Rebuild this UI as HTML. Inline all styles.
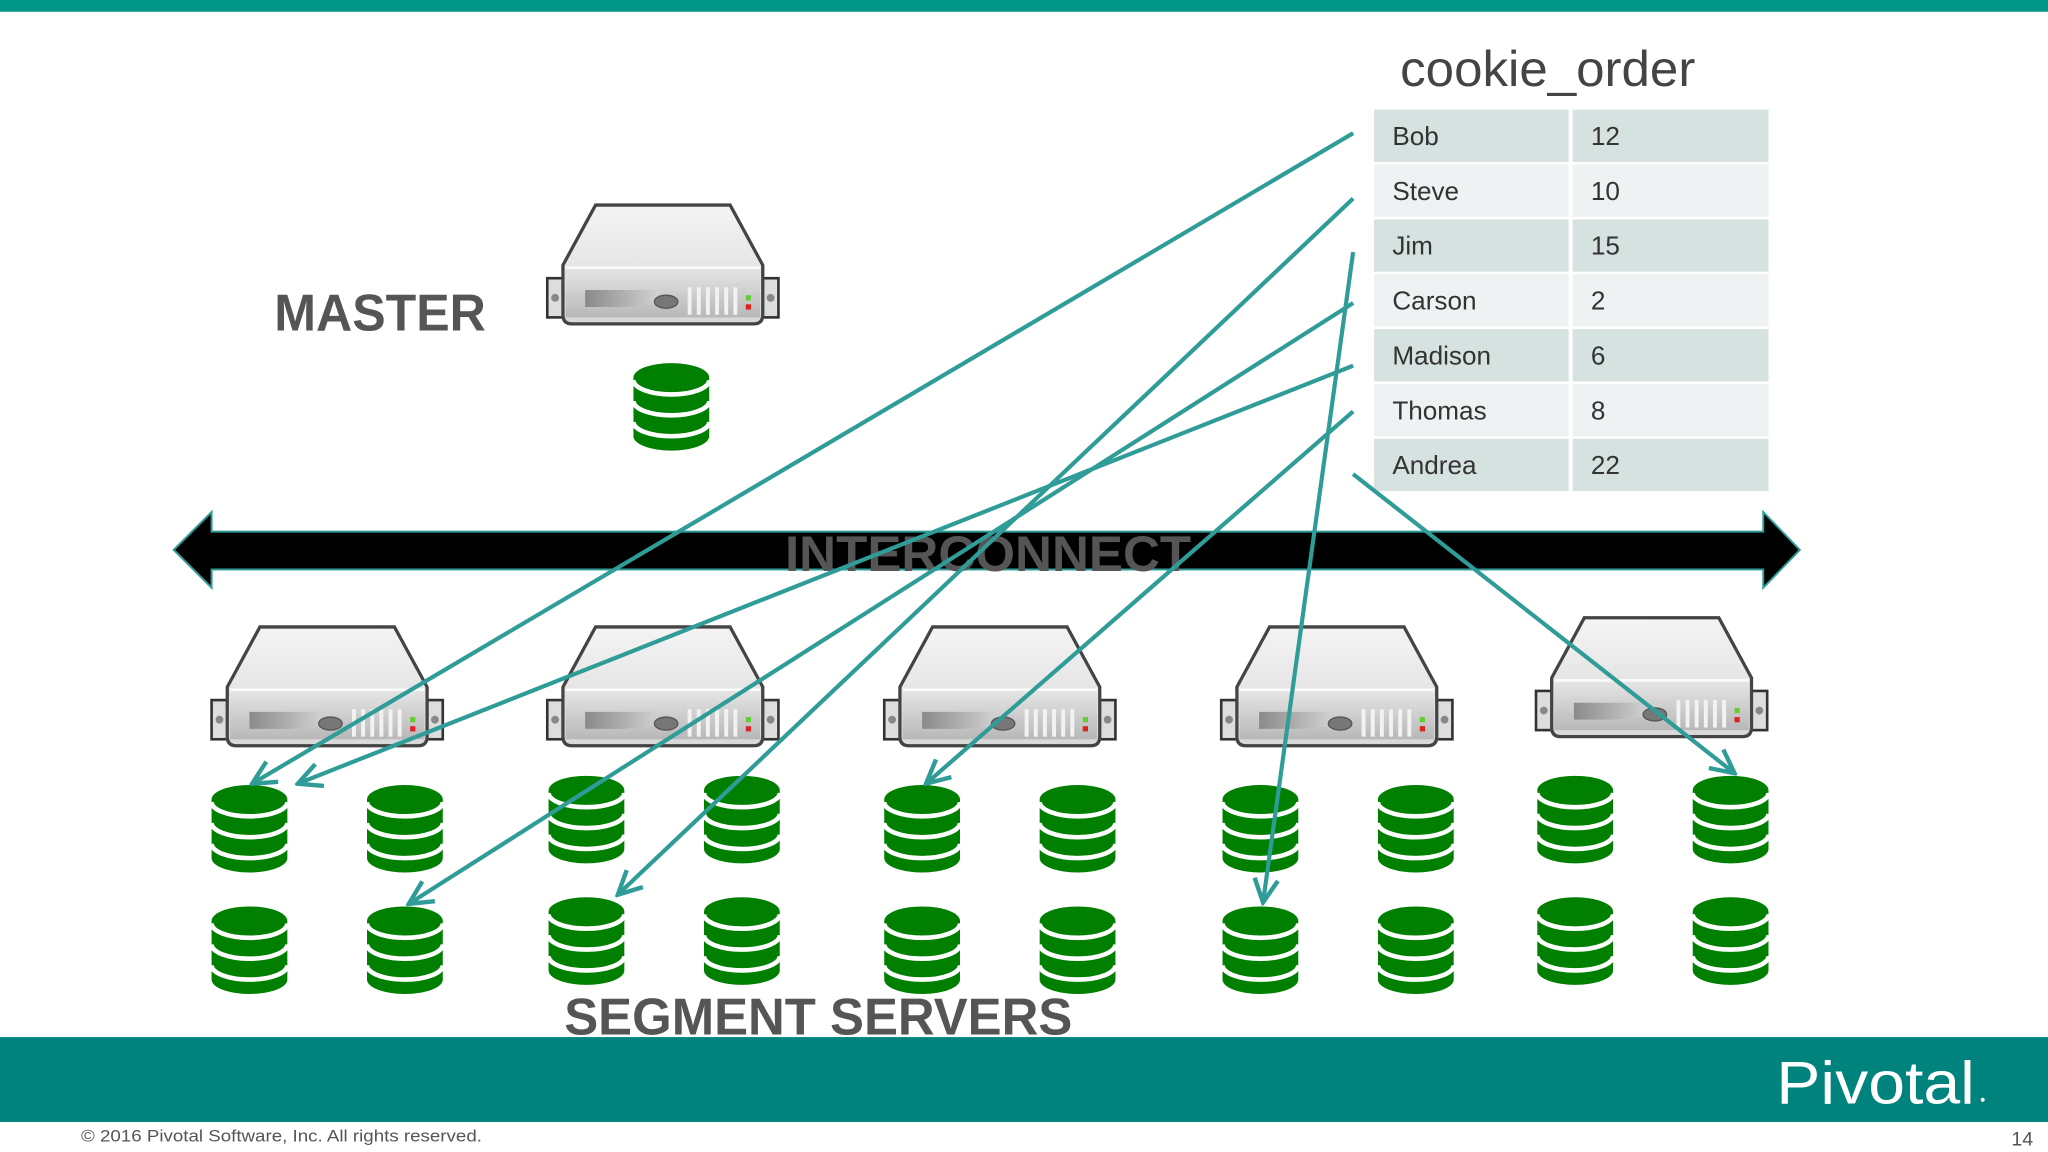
<!DOCTYPE html>
<html><head><meta charset="utf-8"><style>
html,body{margin:0;padding:0;background:#fff;}
svg{display:block;}
text{font-family:"Liberation Sans",Arial,sans-serif;}
</style></head><body>
<svg width="2048" height="1152" viewBox="0 0 1568 882" xmlns="http://www.w3.org/2000/svg">
<defs>
<linearGradient id="topg" x1="0" y1="0" x2="0" y2="1">
<stop offset="0" stop-color="#f4f4f4"/><stop offset="1" stop-color="#d8d8d8"/></linearGradient>
<linearGradient id="frontg" x1="0" y1="0" x2="0" y2="1">
<stop offset="0" stop-color="#e6e6e6"/><stop offset="1" stop-color="#b8b8b8"/></linearGradient>
<linearGradient id="slotg" x1="0" y1="0" x2="1" y2="0">
<stop offset="0" stop-color="#8a8a8a"/><stop offset="1" stop-color="#d0d0d0"/></linearGradient>
<g id="srv">
<rect x="1" y="58" width="14" height="30" fill="#ddd" stroke="#333" stroke-width="2"/>
<rect x="164" y="58" width="14" height="30" fill="#ddd" stroke="#333" stroke-width="2"/>
<circle cx="7" cy="73" r="3" fill="#888"/><circle cx="172" cy="73" r="3" fill="#888"/>
<path d="M38,2 L141,2 L166,48 L166,86 Q166,93 159,93 L20,93 Q13,93 13,86 L13,48 Z" fill="url(#topg)" stroke="#444" stroke-width="2.5"/>
<rect x="15" y="50" width="149" height="38" fill="url(#frontg)"/>
<line x1="15" y1="50" x2="164" y2="50" stroke="#fafafa" stroke-width="2"/>
<path d="M30,67 L85,67 L85,78 L60,80 L30,80 Z" fill="url(#slotg)"/>
<ellipse cx="92" cy="76" rx="9" ry="5" fill="#777" stroke="#555"/>
<g stroke="#f2f2f2" stroke-width="3"><line x1="110" y1="65" x2="110" y2="86"/><line x1="117" y1="65" x2="117" y2="86"/><line x1="124" y1="65" x2="124" y2="86"/><line x1="131" y1="65" x2="131" y2="86"/><line x1="138" y1="65" x2="138" y2="86"/><line x1="145" y1="65" x2="145" y2="86"/></g>
<rect x="153" y="71" width="4" height="4" fill="#6c3"/><rect x="153" y="78" width="4" height="4" fill="#d22"/>
</g>
<g id="db">
<path d="M0,11 A29,11 0 0 1 58,11 L58,56 A29,11 0 0 1 0,56 Z" fill="#007f00"/>
<g fill="none" stroke="#fff" stroke-width="3.5">
<path d="M0,13 A29,11 0 0 0 58,13"/>
<path d="M0,29 A29,11 0 0 0 58,29"/>
<path d="M0,45 A29,11 0 0 0 58,45"/>
</g>
</g>
<marker id="ah" viewBox="0 0 20 20" refX="18" refY="10" markerWidth="7" markerHeight="7" orient="auto" markerUnits="strokeWidth">
<path d="M2,2 L18,10 L2,18" fill="none" stroke="#2f9c98" stroke-width="3"/>
</marker>
</defs>

<rect x="0" y="0" width="1568" height="9" fill="#009685"/>

<text x="1072" y="66" font-size="38" fill="#444" textLength="226" lengthAdjust="spacingAndGlyphs">cookie_order</text>
<g font-size="20" fill="#333">
<rect x="1052" y="84" width="149" height="40" fill="#d6e2e0"/><rect x="1204" y="84" width="150" height="40" fill="#d6e2e0"/>
<rect x="1052" y="126" width="149" height="40" fill="#eef2f3"/><rect x="1204" y="126" width="150" height="40" fill="#eef2f3"/>
<rect x="1052" y="168" width="149" height="40" fill="#d6e2e0"/><rect x="1204" y="168" width="150" height="40" fill="#d6e2e0"/>
<rect x="1052" y="210" width="149" height="40" fill="#eef2f3"/><rect x="1204" y="210" width="150" height="40" fill="#eef2f3"/>
<rect x="1052" y="252" width="149" height="40" fill="#d6e2e0"/><rect x="1204" y="252" width="150" height="40" fill="#d6e2e0"/>
<rect x="1052" y="294" width="149" height="40" fill="#eef2f3"/><rect x="1204" y="294" width="150" height="40" fill="#eef2f3"/>
<rect x="1052" y="336" width="149" height="40" fill="#d6e2e0"/><rect x="1204" y="336" width="150" height="40" fill="#d6e2e0"/>
<text x="1066" y="111">Bob</text><text x="1218" y="111">12</text>
<text x="1066" y="153">Steve</text><text x="1218" y="153">10</text>
<text x="1066" y="195">Jim</text><text x="1218" y="195">15</text>
<text x="1066" y="237">Carson</text><text x="1218" y="237">2</text>
<text x="1066" y="279">Madison</text><text x="1218" y="279">6</text>
<text x="1066" y="321">Thomas</text><text x="1218" y="321">8</text>
<text x="1066" y="363">Andrea</text><text x="1218" y="363">22</text>
</g>

<text x="210" y="253" font-size="40" font-weight="bold" fill="#555" textLength="162" lengthAdjust="spacingAndGlyphs">MASTER</text>
<use href="#srv" x="418" y="155"/>
<use href="#db" x="485" y="278"/>

<path d="M133,421 L162,392 L162,407 L1350,407 L1350,392 L1378,421 L1350,450 L1350,436 L162,436 L162,450 Z" fill="#000" stroke="#2f9c98" stroke-width="1.5"/>
<text x="601" y="437" font-size="38" font-weight="bold" fill="#555" textLength="311" lengthAdjust="spacingAndGlyphs">INTERCONNECT</text>

<use href="#srv" x="161" y="478"/>
<use href="#srv" x="418" y="478"/>
<use href="#srv" x="676" y="478"/>
<use href="#srv" x="934" y="478"/>
<use href="#srv" x="1175" y="471"/>

<use href="#db" x="162" y="601"/><use href="#db" x="281" y="601"/>
<use href="#db" x="420" y="594"/><use href="#db" x="539" y="594"/>
<use href="#db" x="677" y="601"/><use href="#db" x="796" y="601"/>
<use href="#db" x="936" y="601"/><use href="#db" x="1055" y="601"/>
<use href="#db" x="1177" y="594"/><use href="#db" x="1296" y="594"/>
<use href="#db" x="162" y="694"/><use href="#db" x="281" y="694"/>
<use href="#db" x="420" y="687"/><use href="#db" x="539" y="687"/>
<use href="#db" x="677" y="694"/><use href="#db" x="796" y="694"/>
<use href="#db" x="936" y="694"/><use href="#db" x="1055" y="694"/>
<use href="#db" x="1177" y="687"/><use href="#db" x="1296" y="687"/>

<g stroke="#2f9c98" stroke-width="3.2" fill="none" marker-end="url(#ah)">
<line x1="1036" y1="102" x2="193" y2="600"/>
<line x1="1036" y1="152" x2="473" y2="685"/>
<line x1="1036" y1="193" x2="967" y2="691"/>
<line x1="1036" y1="232" x2="313" y2="692"/>
<line x1="1036" y1="280" x2="228" y2="600"/>
<line x1="1036" y1="315" x2="709" y2="600"/>
<line x1="1036" y1="363" x2="1328" y2="592"/>
</g>

<text x="432" y="792" font-size="40" font-weight="bold" fill="#555" textLength="389" lengthAdjust="spacingAndGlyphs">SEGMENT SERVERS</text>

<rect x="0" y="794" width="1568" height="65" fill="#00827d"/>
<text x="1360" y="845" font-size="46" fill="#fff" textLength="152" lengthAdjust="spacingAndGlyphs">Pivotal</text>
<circle cx="1518" cy="842" r="1.5" fill="#fff"/>
<text x="62" y="874" font-size="13" fill="#555" textLength="307" lengthAdjust="spacingAndGlyphs">© 2016 Pivotal Software, Inc.  All rights reserved.</text>
<text x="1540" y="877" font-size="15" fill="#555">14</text>
</svg>
</body></html>
